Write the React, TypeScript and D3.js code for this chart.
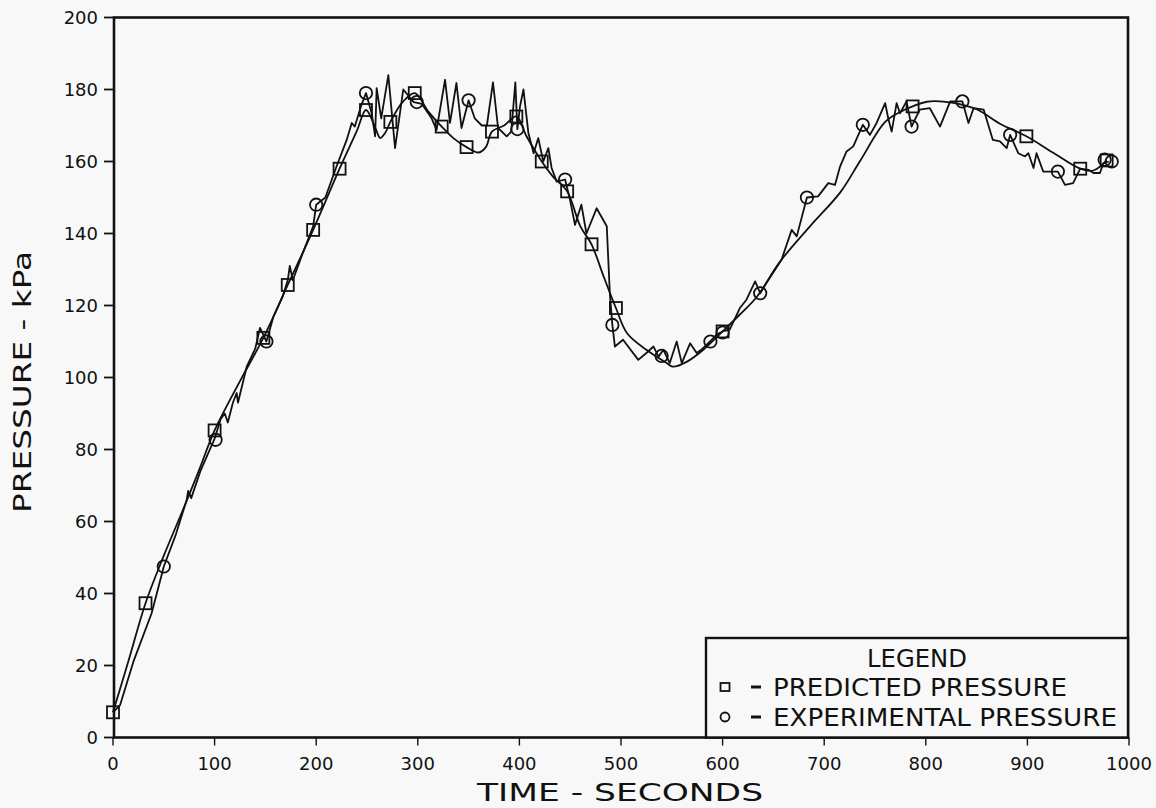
import React from "react";
import * as d3 from "d3";

// ---- data ----
const xTicks = [0, 100, 200, 300, 400, 500, 600, 700, 800, 900, 1000];
const yTicks = [0, 20, 40, 60, 80, 100, 120, 140, 160, 180, 200];

// predicted pressure line (time s, pressure kPa)
const predTime = [0, 16, 32, 50, 70, 85, 100, 125, 148, 172, 197, 223, 240, 249, 258, 263, 268, 273, 285, 297, 310, 323.5, 335, 348, 360, 367, 373, 385, 397, 407, 422, 433, 447, 460, 471, 483, 495, 506, 525, 545, 551, 565, 581, 600, 617, 634, 656, 686, 716, 735, 760, 775, 787, 801, 827, 850, 873, 899, 925, 952, 965, 978];
const predPress = [7, 22, 37.3, 50.5, 64, 74.5, 85.3, 99, 111, 125.7, 141, 158, 168.5, 174.3, 169.5, 166.5, 168, 171, 176.5, 179, 174, 169.7, 166.5, 164, 162.5, 164, 168.3, 170, 172.5, 167, 160, 155.8, 151.7, 142, 137, 128, 119.3, 112.3, 107.7, 104, 103, 104.4, 107.7, 112.8, 117.5, 122.5, 132, 142, 151.5, 160, 171, 173.8, 175.3, 176.6, 176.3, 174.5, 170.5, 167, 162.5, 158, 157.5, 160.3];

// experimental pressure line
const expTime = [0, 7, 20, 38, 44, 50, 62, 72.5, 74, 77, 86, 100, 106, 110, 113, 118, 121.7, 123, 131.6, 140, 144.7, 151, 158, 167, 172, 174, 177, 186, 197, 200, 209, 220, 230, 235, 238, 244, 249, 254.6, 258, 259.5, 264, 271, 277.6, 285.7, 296, 304, 313.6, 318.5, 326.8, 331.7, 338, 343, 350, 356, 363, 368, 374, 379, 387.5, 392, 396, 398, 400.6, 404, 408.8, 414, 418.6, 423.5, 428.5, 431.7, 436.7, 445, 449.8, 454.7, 461, 466, 476, 486, 489, 491.5, 494, 502, 517, 525, 532, 537, 541.7, 548, 554.8, 559.8, 568, 574.5, 579, 587.6, 594, 600, 607, 617, 623.5, 632, 637, 643, 658, 668, 673, 683, 694, 704, 710.6, 715.6, 722, 728.6, 738, 745, 751.6, 760, 763, 766.4, 771.3, 774.6, 781, 786, 794, 804, 814, 824, 836, 842, 847, 857, 866, 873, 879.6, 883, 891, 897.6, 901, 906, 909, 915.6, 930, 937, 945, 952, 960, 965, 971.4, 974.7, 980];
const expPress = [7, 9, 21, 34.5, 41, 47.5, 56.5, 66, 68.5, 66.5, 74, 83, 88.5, 90, 87.5, 93, 95.7, 93, 103, 108, 113.8, 110, 117, 122.5, 127, 131, 127, 134, 142, 148, 150, 158.6, 166, 170.7, 169.7, 175.3, 179, 173.4, 167, 180.4, 172, 184, 163.7, 180, 176.5, 176, 172, 168.8, 182.7, 170.7, 181.8, 169.3, 177, 172, 170, 170, 182, 169.3, 167, 168.3, 182, 169, 175.3, 180, 168, 162.3, 166.5, 160, 163.7, 158.2, 154.4, 155, 149.4, 142.4, 148, 140, 147, 142, 123.4, 114.6, 108.6, 110.5, 104.9, 106.8, 108.6, 105.8, 107.7, 104, 110, 104, 109.5, 106.8, 107.7, 110, 111.9, 112.8, 113.3, 119.3, 121.6, 126.7, 123.4, 126.2, 132.7, 141, 139.2, 150, 150.3, 154, 153.5, 158.6, 162.8, 164.2, 170.2, 167.4, 170.7, 176.2, 172, 168.3, 176.2, 173.4, 176.7, 169.7, 174.4, 174.8, 169.7, 176.7, 176.7, 170.7, 174.8, 174.4, 166, 165.6, 163.7, 167.4, 162.3, 161.4, 162.3, 158.2, 162.3, 157.2, 157.2, 153.5, 154, 158, 157.7, 156.8, 156.8, 159.5, 160];

// marker positions
const predMarkTime = [0, 32, 100, 148, 172, 197, 223, 249, 273, 297, 323.5, 348, 373, 397, 422, 447, 471, 495, 600, 787, 899, 952, 978];
const predMarkPress = [7, 37.3, 85.3, 111, 125.7, 141, 158, 174.3, 171, 179, 169.7, 164, 168.3, 172.5, 160, 151.7, 137, 119.3, 112.8, 175.3, 167, 158, 160.3];
const expMarkTime = [50, 101, 151, 200, 249, 299, 350, 398, 445, 491.5, 540, 588, 600, 637, 683, 738, 786, 836, 883, 930, 976, 983];
const expMarkPress = [47.5, 82.7, 110, 148, 179, 176.5, 177, 169, 155, 114.6, 106, 110, 112.5, 123.4, 150, 170.2, 169.7, 176.7, 167.4, 157.2, 160.5, 160];

const legendTitle = "LEGEND";
const legendItems = ["PREDICTED PRESSURE", "EXPERIMENTAL PRESSURE"];
const xTitle = "TIME  -  SECONDS";
const yTitle = "PRESSURE  -  kPa";

export default function App() {
  const W = 1156, H = 808;
  const left = 114, right = 1128, top = 17.5, bottom = 737.5;
  const x = d3.scaleLinear().domain([0, 1000]).range([113, 1129]);
  const y = d3.scaleLinear().domain([0, 200]).range([bottom, top]);

  const line = d3.line<[number, number]>().x(d => x(d[0])).y(d => y(d[1]));
  const predLine = d3.line<[number, number]>().x(d => x(d[0])).y(d => y(d[1])).curve(d3.curveCatmullRom.alpha(0.5));
  const predPts = predTime.map((t, i) => [t, predPress[i]] as [number, number]);
  const expPts = expTime.map((t, i) => [t, expPress[i]] as [number, number]);

  const font = "'DejaVu Sans', sans-serif";
  const ink = "#111";
  const sq = 12;

  return (
    <svg width={W} height={H} style={{ position: "absolute", left: 0, top: 0, background: "#f8f8f8" }}
      fontFamily={font}>
      <rect x={0} y={0} width={W} height={H} fill="#f8f8f8" />
      {/* frame */}
      <rect x={left} y={top} width={right - left} height={bottom - top} fill="none" stroke={ink} strokeWidth={2.6} />
      {/* y ticks */}
      {yTicks.map(v => (
        <g key={"y" + v}>
          <line x1={104} x2={left} y1={y(v)} y2={y(v)} stroke={ink} strokeWidth={1.8} />
          <text x={98} y={y(v) + 6.5} textAnchor="end" fontSize={18} fill={ink}>{v}</text>
        </g>
      ))}
      {/* x ticks */}
      {xTicks.map(v => (
        <g key={"x" + v}>
          <line x1={x(v)} x2={x(v)} y1={bottom} y2={bottom + 8} stroke={ink} strokeWidth={1.4} />
          <text x={x(v)} y={770} textAnchor="middle" fontSize={18} fill={ink}>{v}</text>
        </g>
      ))}
      {/* axis titles */}
      <text x={620} y={801} textAnchor="middle" fontSize={25} fill={ink} textLength={286} lengthAdjust="spacingAndGlyphs">{xTitle}</text>
      <text transform="translate(31,382) rotate(-90)" textAnchor="middle" fontSize={25} fill={ink} textLength={262} lengthAdjust="spacingAndGlyphs">{yTitle}</text>

      {/* lines */}
      <path d={predLine(predPts) || ""} fill="none" stroke={ink} strokeWidth={1.8} strokeLinejoin="round" />
      <path d={line(expPts) || ""} fill="none" stroke={ink} strokeWidth={1.8} strokeLinejoin="round" />

      {/* markers */}
      {predMarkTime.map((t, i) => (
        <rect key={"ps" + i} x={x(t) - sq / 2} y={y(predMarkPress[i]) - sq / 2} width={sq} height={sq}
          fill="none" stroke={ink} strokeWidth={1.8} />
      ))}
      {expMarkTime.map((t, i) => (
        <circle key={"ec" + i} cx={x(t)} cy={y(expMarkPress[i])} r={6.2} fill="none" stroke={ink} strokeWidth={1.8} />
      ))}

      {/* legend */}
      <rect x={706} y={638} width={right - 706} height={bottom - 638} fill="#f8f8f8" stroke={ink} strokeWidth={2.4} />
      <text x={917} y={667} textAnchor="middle" fontSize={24} fill={ink} textLength={100} lengthAdjust="spacingAndGlyphs">{legendTitle}</text>
      <rect x={720.5} y={683} width={9} height={8} fill="none" stroke={ink} strokeWidth={1.8} />
      <line x1={751} x2={761} y1={687} y2={687} stroke={ink} strokeWidth={3} />
      <text x={773} y={696} fontSize={24} fill={ink} textLength={294} lengthAdjust="spacingAndGlyphs">{legendItems[0]}</text>
      <circle cx={725} cy={717} r={4.5} fill="none" stroke={ink} strokeWidth={1.8} />
      <line x1={751} x2={761} y1={717} y2={717} stroke={ink} strokeWidth={3} />
      <text x={773} y={726} fontSize={24} fill={ink} textLength={344} lengthAdjust="spacingAndGlyphs">{legendItems[1]}</text>
    </svg>
  );
}
